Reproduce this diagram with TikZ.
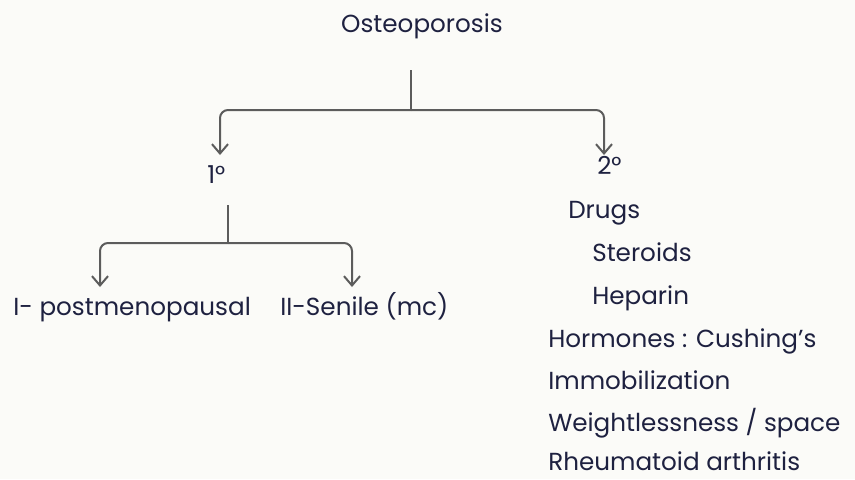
\documentclass[tikz,border=0pt]{standalone}
\usepackage{fontspec}
\setmainfont{Poppins}
\usetikzlibrary{arrows.meta}
\definecolor{ink}{HTML}{1E2140}
\definecolor{linegray}{HTML}{5C5C5C}
\definecolor{paper}{HTML}{FBFBF8}
\begin{document}
\begin{tikzpicture}[x=0.75pt,y=-0.75pt,
  lbl/.style={text=ink,font=\fontsize{18.5}{22}\selectfont,inner sep=0pt},
  conn/.style={draw=linegray,line width=1.5pt,rounded corners=6pt,
    -{Straight Barb[length=7pt,width=12pt,line width=1.5pt]}},
  trunk/.style={draw=linegray,line width=1.5pt}]
\fill[paper] (0,0) rectangle (855,479);
\useasboundingbox (0,0) rectangle (855,479);

\node[lbl,anchor=base] (root) at (422,32) {Osteoporosis};
\coordinate (r1) at (411,70);
\coordinate (j1) at (411,110);
\coordinate (a1) at (220,155);
\coordinate (a2) at (604,155);
\draw[trunk] (r1) -- (j1);
\draw[conn] (j1) -| (a1);
\draw[conn] (j1) -| (a2);

\node[lbl,anchor=base west] (prim) at (207,183) {1°};
\node[lbl,anchor=base west] (sec) at (597,174) {2°};

\coordinate (r2) at (228,205);
\coordinate (j2) at (228,243);
\coordinate (b1) at (100,287);
\coordinate (b2) at (352,287);
\draw[trunk] (r2) -- (j2);
\draw[conn] (j2) -| (b1);
\draw[conn] (j2) -| (b2);

\node[lbl,anchor=base west] (pm) at (13,315) {I- postmenopausal};
\node[lbl,anchor=base west] (sen) at (280,315) {II-Senile (mc)};

\node[lbl,anchor=base west] (drugs) at (568,218) {Drugs};
\node[lbl,anchor=base west] (ster) at (592,261) {Steroids};
\node[lbl,anchor=base west] (hep) at (592,304) {Heparin};
\node[lbl,anchor=base west] (horm) at (548,347) {Hormones : Cushing’s};
\node[lbl,anchor=base west] (immo) at (548,389) {Immobilization};
\node[lbl,anchor=base west] (weig) at (548,431) {Weightlessness / space};
\node[lbl,anchor=base west] (rheu) at (548,470) {Rheumatoid arthritis};
\end{tikzpicture}
\end{document}
